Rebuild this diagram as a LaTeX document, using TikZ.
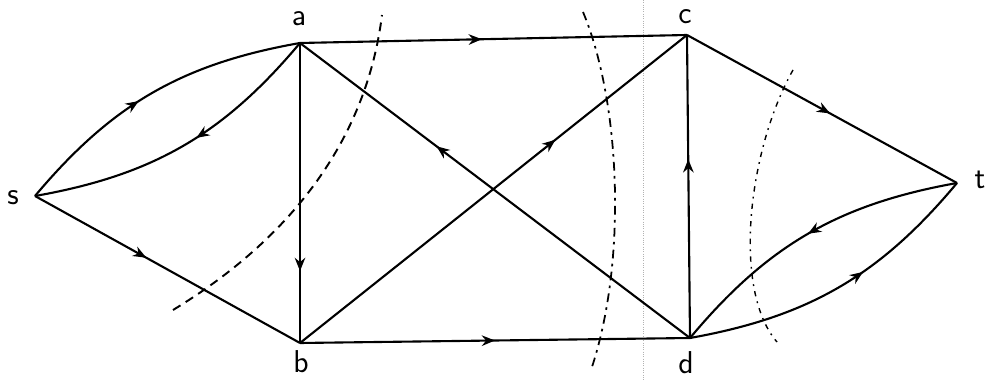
\documentclass[tikz,border=0pt]{standalone}
\usepackage{tikz}
\usetikzlibrary{arrows.meta}
\usetikzlibrary{decorations.markings}

\begin{document}
\begin{tikzpicture}[x=0.02cm,y=-0.02cm,
		edge/.style={line width=1.2pt},
		flowmark/.style={postaction={decorate},decoration={markings,
			mark=at position #1 with {\arrow{Stealth[length=7.5pt,width=6pt]}}}},
		cutline/.style={line width=1.1pt,dash pattern=on 5pt off 3.5pt},
		cutmixed/.style={line width=1pt,dash pattern=on 5pt off 3pt on 1.5pt off 3pt},
		cutfine/.style={line width=0.8pt,dash pattern=on 3pt off 3pt on 1pt off 3pt},
		vlabel/.style={font=\fontsize{18}{22}\selectfont\sffamily,inner sep=0pt}]
		\useasboundingbox (0,0) rectangle (991,381);
		
		% vertices
		\coordinate (s) at (35,196);
		\coordinate (a) at (300,43);
		\coordinate (b) at (300,343);
		\coordinate (c) at (687,35);
		\coordinate (d) at (690,338);
		\coordinate (t) at (957,183);
		
		\node [vlabel] (ls) at (13,198) {s};
		\node [vlabel] (la) at (299,19) {a};
		\node [vlabel] (lb) at (301,362) {b};
		\node [vlabel] (lc) at (685,17) {c};
		\node [vlabel] (ld) at (686,363) {d};
		\node [vlabel] (lt) at (980,180) {t};
		
		% scan line
		\draw [gray!60,line width=0.3pt,densely dotted] (643,0) to (643,381);
		
		\draw [edge,flowmark=0.45] (s) to[bend left=20] (a);
		\draw [edge,flowmark=0.45] (a) to[bend left=20] (s);
		\draw [edge,flowmark=0.42] (s) to (b);
		\draw [edge,flowmark=0.76] (a) to (b);
		\draw [edge,flowmark=0.47] (a) to (c);
		\draw [edge,flowmark=0.65] (d) to (a);
		\draw [edge,flowmark=0.66] (b) to (c);
		\draw [edge,flowmark=0.5] (b) to (d);
		\draw [edge,flowmark=0.59] (d) to (c);
		\draw [edge,flowmark=0.53] (c) to (t);
		\draw [edge,flowmark=0.5] (t) to[bend right=20] (d);
		\draw [edge,flowmark=0.59] (d) to[bend right=20] (t);
		
		% cuts
		\draw [cutline] (173,310) .. controls (280,245) and (365,150) .. (382,15);
		\draw [cutmixed] (583,12) .. controls (620,100) and (628,260) .. (591,370);
		\draw [cutfine] (793,70) .. controls (748,150) and (732,290) .. (777,342);
		
	\end{tikzpicture}
\end{document}
